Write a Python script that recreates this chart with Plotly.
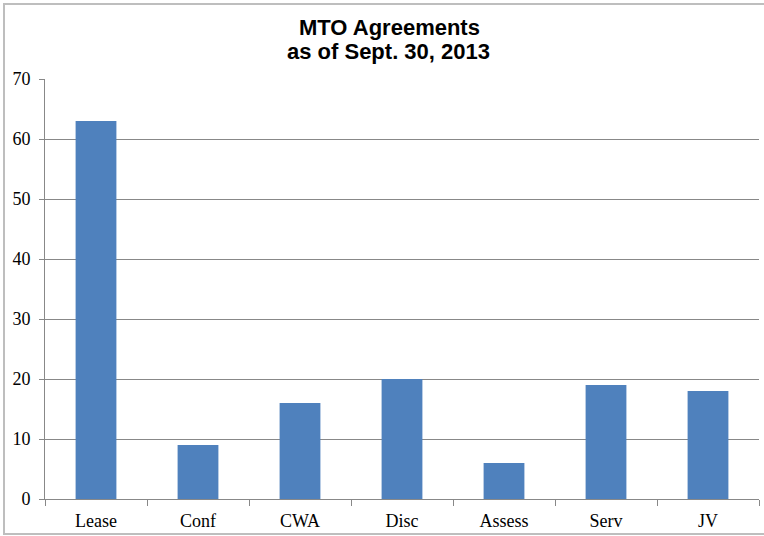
import plotly.graph_objects as go

categories = ["Lease", "Conf", "CWA", "Disc", "Assess", "Serv", "JV"]
values = [63, 9, 16, 20, 6, 19, 18]
y_ticks = [0, 10, 20, 30, 40, 50, 60, 70]
title_lines = ["MTO Agreements", "as of Sept. 30, 2013"]

L, R, T, B = 45, 5, 79, 37
W, H = 764, 536
pw, ph = W - L - R, H - T - B


def px_x(p):
    return (p - L) / pw


def px_y(p):
    return (H - B - p) / ph


fig = go.Figure()
fig.add_trace(go.Bar(x=categories, y=values, marker=dict(color="#4F81BD", line=dict(width=0)),
                     width=0.4))

title_font = dict(family="Liberation Sans, Arial", size=22, color="black")
annotations = [
    dict(text="<b>%s</b>" % title_lines[0], xref="paper", yref="paper", x=px_x(389), y=px_y(27),
         xanchor="center", yanchor="middle", showarrow=False, font=title_font),
    dict(text="<b>%s</b>" % title_lines[1], xref="paper", yref="paper", x=px_x(388), y=px_y(51),
         xanchor="center", yanchor="middle", showarrow=False, font=title_font),
]

fig.update_layout(
    width=W, height=H,
    margin=dict(l=L, r=R, t=T, b=B),
    paper_bgcolor="white", plot_bgcolor="white",
    showlegend=False,
    annotations=annotations,
    font=dict(family="Liberation Serif, Times New Roman", size=18, color="black"),
    xaxis=dict(showline=True, linecolor="#888888", linewidth=1,
               ticks="outside", tickson="boundaries", ticklen=6, tickcolor="#888888",
               showgrid=False, tickfont=dict(size=18), ticklabelstandoff=5),
    yaxis=dict(range=[0, 70], tickvals=y_ticks, showline=True, linecolor="#888888", linewidth=1,
               ticks="outside", ticklen=5, tickcolor="#888888",
               showgrid=True, gridcolor="#888888", gridwidth=1,
               zeroline=False, tickfont=dict(size=18), ticklabelstandoff=5),
    shapes=[dict(type="rect", xref="paper", yref="paper",
                 x0=px_x(4), x1=px_x(W + 10),
                 y0=px_y(534), y1=px_y(4),
                 line=dict(color="#BEBEBE", width=2), fillcolor="rgba(0,0,0,0)", layer="below")],
)

fig.write_html("out.html", config={"displayModeBar": False},
               post_script="document.body.style.margin='0';document.body.style.overflow='hidden';")
